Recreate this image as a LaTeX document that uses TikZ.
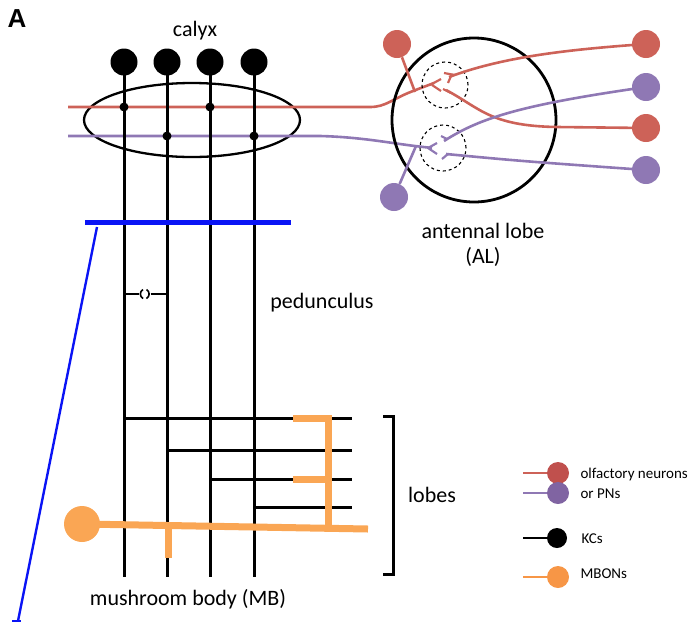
\documentclass[tikz,border=0pt]{standalone}
\usepackage{fontspec}
\setmainfont{Carlito}
\newfontfamily\arialfont{Liberation Sans}
\definecolor{orn}{RGB}{205,98,88}
\definecolor{pn}{RGB}{143,120,180}
\definecolor{mbon}{RGB}{250,166,84}
\definecolor{bluebar}{RGB}{10,20,245}
\definecolor{ornleg}{RGB}{192,80,77}
\definecolor{pnleg}{RGB}{128,100,162}
\definecolor{mbonleg}{RGB}{247,150,70}
\begin{document}
\begin{tikzpicture}[x=1pt,y=-1pt,
  kc/.style={line width=3pt,black},
  soma/.style={circle,fill,inner sep=0pt,minimum size=27pt},
  syn/.style={circle,fill=black,inner sep=0pt,minimum size=9pt},
  ornline/.style={orn,line width=2.6pt},
  pnline/.style={pn,line width=2.6pt},
  mbonline/.style={mbon,line width=7pt},
  bigtext/.style={font=\fontsize{22}{26}\selectfont,anchor=base},
  legtext/.style={font=\fontsize{15}{18}\selectfont,anchor=base west},
  legline/.style={line width=2pt},
  legsoma/.style={circle,inner sep=0pt,minimum size=22pt},
  glom/.style={circle,draw,dashed,line width=1.1pt,inner sep=0pt,minimum size=46pt}]
\useasboundingbox (0,0) rectangle (691,625);

% label A
\node[font=\arialfont\bfseries\fontsize{26}{30}\selectfont,anchor=base] (lA) at (17,27) {A};
\node[bigtext] (lcalyx) at (195,36) {calyx};

% calyx ellipse
\draw[line width=2.3pt] (192,120) ellipse [x radius=108, y radius=37];

% PN axons through calyx
\draw[ornline] (68,107) -- (370,107) .. controls (386,107) and (392,99) .. (413,91) -- (434,83);
\draw[pnline] (68,136) -- (320,136) .. controls (360,137) and (390,143) .. (415,146) -- (432,148);

% KCs
\foreach \i/\x in {1/124,2/167,3/210,4/254}{
  \coordinate (kb\i) at (\x,577);
  \draw[kc] (\x,62) -- (kb\i);
  \node[soma] (k\i) at (\x,62) {};
}
\node[syn] (s1) at (124,107) {};
\node[syn] (s3) at (210,107) {};
\node[syn] (s2) at (167,136) {};
\node[syn] (s4) at (254,136) {};

% blue bar and line
\coordinate (b1) at (85,222);
\coordinate (b2) at (291,222);
\draw[bluebar,line width=5pt] (b1) -- (b2);
\coordinate (bt) at (97,227);
\coordinate (bb) at (18,621);
\draw[bluebar,line width=2.4pt] (bt) -- (bb);
\draw[bluebar,line width=1.5pt] (12,621) -- (21,621);

% gap junction on peduncle
\coordinate (g1) at (124,294);
\coordinate (g2) at (167,294);
\draw[line width=1.8pt] (g1) -- (139,294);
\draw[line width=1.8pt] (150.5,294) -- (g2);
\draw[line width=1.6pt] (143,289.5) .. controls (139.5,291.5) and (139.5,296.5) .. (143,298.5);
\draw[line width=1.6pt] (146.5,289.5) .. controls (150,291.5) and (150,296.5) .. (146.5,298.5);

\node[bigtext] (lped) at (322,308) {pedunculus};

% lobes
\coordinate (l1e) at (352,418);
\coordinate (l2e) at (352,450);
\coordinate (l3e) at (352,479);
\coordinate (l4e) at (352,507);
\draw[kc] (124,418) -- (l1e);
\draw[kc] (167,450) -- (l2e);
\draw[kc] (210,479) -- (l3e);
\draw[kc] (254,507) -- (l4e);

% MBON
\node[circle,fill=mbon,inner sep=0pt,minimum size=36pt] (mb) at (82,524) {};
\coordinate (mbe) at (368,529);
\draw[mbonline] (mb.center) -- (mbe);
\draw[mbonline] (168,525) -- (168,558);
\draw[mbonline] (328,527) -- (328,418) -- (293,418);
\draw[mbonline] (328,479) -- (293,479);

% bracket
\draw[line width=3pt] (383,416) -- (393,416) -- (393,574) -- (383,574);
\node[bigtext] (llobes) at (432,502) {lobes};

\node[bigtext] (lmb) at (188,605) {mushroom body (MB)};

% antennal lobe
\node[circle,draw,line width=2.8pt,inner sep=0pt,minimum size=164pt] (al) at (474,120) {};
\node[glom] (gl1) at (445,85) {};
\node[glom] (gl2) at (443,148) {};
\node[bigtext] (lal1) at (483,238) {antennal lobe};
\node[bigtext] (lal2) at (483,263) {(AL)};

% ORN top-left
\node[circle,fill=orn,inner sep=0pt,minimum size=28pt] (o1) at (397,44) {};
\coordinate (o1e) at (415,92);
\draw[ornline] (o1) -- (o1e);
% left forks (incoming)
\draw[ornline,line width=2.2pt] (430,85) -- (441,79);
\draw[ornline,line width=2.2pt] (432,85) -- (441,91);
% right red neurons
\node[circle,fill=orn,inner sep=0pt,minimum size=28pt] (r1) at (646,44) {};
\node[circle,fill=orn,inner sep=0pt,minimum size=28pt] (r2) at (646,128) {};
\draw[ornline] (449,77) .. controls (500,58) and (560,50) .. (r1.center);
\draw[ornline,line width=2.2pt] (455,75) -- (444,73);
\draw[ornline,line width=2.2pt] (451,76) -- (448,83);
\draw[ornline] (446,90) .. controls (480,108) and (490,126) .. (557,127) -- (r2.center);
\draw[ornline,line width=2.2pt] (451,93) -- (443,89);

% PN bottom-left
\node[circle,fill=pn,inner sep=0pt,minimum size=28pt] (p1) at (394,197) {};
\coordinate (p1e) at (416,146);
\draw[pnline] (p1) -- (p1e);
\draw[pnline,line width=2.2pt] (428,148) -- (437,143);
\draw[pnline,line width=2.2pt] (428,148) -- (437,154);
% right purple neurons
\node[circle,fill=pn,inner sep=0pt,minimum size=28pt] (q1) at (646,87) {};
\node[circle,fill=pn,inner sep=0pt,minimum size=28pt] (q2) at (646,170) {};
\draw[pnline] (444,141) .. controls (480,118) and (520,105) .. (q1.center);
\draw[pnline,line width=2.2pt] (447,139) -- (441,136);
\draw[pnline] (446,154) .. controls (520,161) .. (q2.center);
\draw[pnline,line width=2.2pt] (448,154) -- (442,159);

% legend
\node[legsoma,fill=ornleg] (lg1) at (558,473) {};
\draw[orn,legline] (523,473) -- (lg1);
\node[legtext] (lt1) at (577,478) {olfactory neurons};
\node[legsoma,fill=pnleg] (lg2) at (558,493) {};
\draw[pn,legline] (523,493) -- (lg2);
\node[legtext] (lt2) at (577,498) {or PNs};
\node[legsoma,fill=black,minimum size=20pt] (lg3) at (557,538) {};
\draw[black,legline] (523,538) -- (lg3);
\node[legtext] (lt3) at (578,543) {KCs};
\node[legsoma,fill=mbonleg] (lg4) at (558,577) {};
\draw[mbonleg,legline] (523,577) -- (lg4);
\node[legtext] (lt4) at (577,578) {MBONs};
\end{tikzpicture}
\end{document}
